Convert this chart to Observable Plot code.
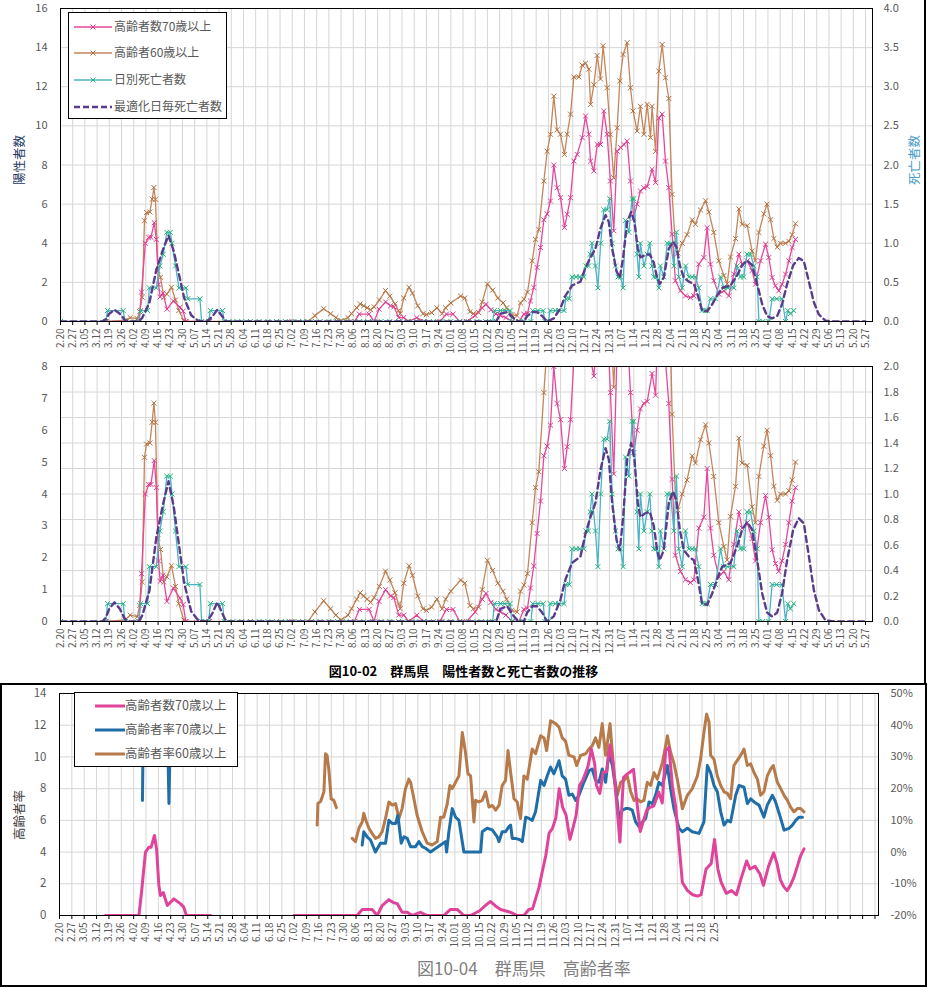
<!DOCTYPE html>
<html><head><meta charset="utf-8">
<script src="https://cdn.jsdelivr.net/npm/d3@7"></script>
<script src="https://cdn.jsdelivr.net/npm/@observablehq/plot@0.6"></script>
<style>
body{margin:0;background:#fff;}
#page{position:relative;width:927px;height:987px;overflow:hidden;background:#fff;font-family:"Noto Sans CJK JP","Noto Sans",sans-serif;}
.abs{position:absolute;}
.svgwrap{position:absolute;left:0;}
.legend{position:absolute;background:#fff;border:1px solid #000;z-index:5;}
.legend .item{position:absolute;white-space:nowrap;color:#595959;line-height:1;}
.rot{position:absolute;transform:translate(-50%,-50%) rotate(-90deg);white-space:nowrap;}
</style></head><body><div id="page"></div>
<script>
// ---------------- DATA ----------------
// x values are day offsets from startDate (2020-02-20)
const startDate = "2020-02-20";
const xTickLabels = ["2.20","2.27","3.05","3.12","3.19","3.26","4.02","4.09","4.16","4.23","4.30","5.07","5.14","5.21","5.28","6.04","6.11","6.18","6.25","7.02","7.09","7.16","7.23","7.30","8.06","8.13","8.20","8.27","9.03","9.10","9.17","9.24","10.01","10.08","10.15","10.22","10.29","11.05","11.12","11.19","11.26","12.03","12.10","12.17","12.24","12.31","1.07","1.14","1.21","1.28","2.04","2.11","2.18","2.25","3.04","3.11","3.18","3.25","4.01","4.08","4.15","4.22","4.29","5.06","5.13","5.20","5.27"];
const lastBottomLabel = "2.25";

// 高齢者数70歳以上 (left axis)
const pos70 = [[26,0],[45,0],[46.5,1.5],[48.7,4.0],[50.6,4.3],[51.9,4.3],[53.8,5.05],[55,4.2],[56.3,1.9],[57.2,1.26],[58.8,1.45],[61.1,0.63],[64.8,1.05],[68.6,0.73],[70.4,0.53],[71.9,0],[85.6,0],[100,null],
[132.8,0],[168.6,0],[171.5,0.38],[177.1,0.38],[180,0],[182.8,0.63],[186.6,1.0],[189.4,0.8],[191.3,0.75],[194.1,0.2],[197,0.2],[199.8,0],[204.5,0.2],[208.3,0],[217.7,0],[221.5,0.38],[225.3,0.38],[229.1,0],[233,0],[238,0.3],[242,0.7],[244.2,0.88],[247,0.6],[249.9,0.38],[252.5,0.3],[255.6,0.2],[259.3,0],[263.1,0],[265.9,0.38],[268,0.42],[269.7,1.05],[271.6,1.74],[273.5,2.76],[275.5,3.78],[277.4,5.2],[279.3,5.5],[281.2,6.16],[283.1,8.0],[285,6.84],[287,6.33],[289.2,4.8],[290.8,5.48],[292.7,6.33],[294.6,8.2],[296.5,8.54],[299.4,9.4],[301.3,10.5],[303.2,9.57],[304.2,8.2],[306.1,7.7],[308,9.05],[309.9,9.05],[311.8,10.76],[313.7,9.57],[315.6,7.18],[317.5,4.63],[319.5,8.7],[321.4,8.9],[323.3,9.05],[325.2,9.22],[327.1,7.18],[329,5.3],[330.9,6.0],[332.8,6.67],[334.8,6.84],[336.7,6.9],[339.5,7.78],[341.5,7.1],[343.4,10.4],[345.3,10.6],[347.2,8.2],[349.1,6.84],[351,4.46],[352.9,2.08],[355.8,1.57],[358.7,1.31],[361.5,1.22],[363.5,1.31],[366.3,2.93],[369.2,3.27],[371.1,4.8],[373,2.93],[374.9,2.08],[377.8,1.4],[380.7,1.57],[383.5,1.31],[386.4,2.42],[389.3,3.44],[391.2,2.93],[394.1,3.1],[396.9,2.6],[398.8,1.9],[401.7,3.1],[404.6,3.95],[406.5,3.27],[408.4,2.25],[410.3,1.82],[412.2,1.57],[414.1,1.9],[416.1,2.42],[418,3.1],[419.9,3.78],[421.8,4.2]];

// 高齢者60歳以上 (left axis)
const pos60 = [[26,0],[37,0.05],[40,0.2],[44,0.15],[45.5,0.5],[46.9,1.24],[48.2,5.15],[49.4,5.57],[51.3,5.6],[52.6,6.25],[53.6,6.85],[54.5,6.25],[55.9,2.6],[57.4,2.26],[59.3,1.24],[61,1.4],[63.7,1.75],[66,1.1],[67.9,0.56],[70.7,0.05],[72,0],[142,0],[146,0.3],[151,0.65],[155,0.4],[158,0.2],[161,0.05],[165,0.2],[167,0.4],[170,0.7],[172,0.9],[174,0.8],[176,0.7],[178,0.6],[180,0.75],[183,1.1],[186.5,1.58],[189,1.3],[192,0.9],[194,0.55],[195,0.4],[197,1.2],[200,1.75],[202,1.45],[205,0.8],[208,0.4],[210,0.35],[213,0.45],[216,0.7],[219,0.4],[221,0.7],[224,0.95],[229.6,1.3],[232,1.2],[235,0.5],[237,0.4],[240,0.45],[242,1.0],[245,1.92],[248,1.6],[251,1.2],[254,0.95],[256,0.7],[259,0.35],[262,0.3],[264,0.95],[266,1.14],[268,1.5],[270.7,3.1],[272.6,4.2],[274.5,4.7],[277.4,7.18],[279.3,8.7],[281.2,9.57],[283.1,11.52],[285,9.8],[286.9,9.57],[289.2,8.54],[290.8,9.57],[292.7,10.6],[294.6,12.5],[297.5,12.5],[299.4,13.1],[301.3,13.2],[303.2,12.9],[304.2,11.1],[306.1,12.1],[308,13.6],[309.9,12.4],[311.4,14.1],[313.7,11.95],[315.6,9.57],[317.5,7.35],[319.5,9.9],[321,12.3],[322.9,13.65],[325.2,14.25],[327.1,11.95],[328.6,10.76],[330.9,9.74],[332.8,11.0],[334.8,9.57],[336.7,11.1],[338.6,9.4],[339.5,11.0],[341.5,8.7],[343.4,12.8],[345.3,14.16],[347.2,12.46],[349.1,11.4],[351,6.5],[352.9,3.9],[354.3,3.5],[356.8,4.0],[359.6,4.44],[362.5,5.2],[364.4,4.97],[367.3,5.7],[370.2,6.17],[372.1,5.6],[374.9,4.55],[377.8,3.1],[380.7,2.35],[382.6,1.93],[384.5,3.3],[387.4,4.24],[389.3,5.75],[391.2,4.97],[394.1,4.9],[396.9,3.6],[398.8,3.1],[400.8,4.55],[403.6,5.5],[405.5,6.0],[407.5,5.2],[409.4,4.24],[411.3,3.8],[413.2,4.0],[416.1,4.0],[418,4.1],[419.9,4.44],[421.8,5.0]];

// 日別死亡者数 (right axis)
const deaths = [[0,0],[26,0],[27,0.14],[36,0.14],[37,0],[45,0],[46,0.14],[50,0.14],[51,0.43],[55,0.43],[57,0.71],[59,0.86],[61,1.14],[63,1.14],[64,1.0],[66,0.71],[68,0.43],[72,0.43],[73,0.29],[80,0.29],[81,0],[85,0],[86,0.14],[93,0.14],[94,0],[99,0],[104,0],[109,0],[114,0],[119,0],[124,0],[129,0],[134,0],[139,0],[144,0],[149,0],[154,0],[159,0],[164,0],[169,0],[174,0],[179,0],[184,0],[189,0],[194,0],[199,0],[204,0],[209,0],[214,0],[219,0],[224,0],[229,0],[234,0],[239,0],[244,0],[248,0],[249,0.14],[252.5,0.14],[255,0.14],[258,0.14],[259,0],[263,0],[266,0],[270,0],[271,0.14],[274,0.14],[277,0.14],[278,0],[280,0],[281,0.14],[284,0.14],[286,0.14],[289,0.14],[290,0.29],[292,0.29],[293.6,0.57],[296,0.57],[298,0.57],[300.3,0.57],[301.5,0.71],[303,0.71],[304,0.86],[305,1.0],[307,0.71],[308.4,0.43],[310,1.0],[311.8,1.43],[313.7,1.43],[315.2,1.57],[316.6,1.0],[318.5,0.71],[320,0.57],[321.4,0.57],[322.9,0.43],[324.2,1.29],[326.2,1.14],[328,1.57],[329,1.57],[330.9,0.86],[331.9,0.57],[332.8,1.0],[334.8,0.71],[336.7,0.86],[338.2,1.0],[339.5,0.71],[340.5,0.57],[342,0.57],[343.4,0.43],[344.3,0.71],[346.2,0.57],[348.2,1.0],[350.1,1.0],[352,0.71],[353.5,1.14],[354.8,0.57],[356.8,0.43],[358.7,0.71],[360.6,0.57],[362.5,0.57],[364.4,0.57],[366.3,0.43],[368.2,0.14],[370,0.14],[371.1,0.14],[373,0.29],[375.9,0.29],[378.8,0.57],[380.7,0.43],[383,0.43],[386.4,0.43],[388.3,0.71],[390.2,0.57],[392.1,0.57],[394,0.86],[396,0.86],[397.9,0.71],[399.8,0.57],[400.8,0],[403,0],[406.5,0],[408.4,0.29],[411,0.29],[414.1,0.29],[416.1,0],[417.4,0.14],[418.9,0.1],[420.8,0.14]];

// 最適化日毎死亡者数 (right axis)
const optimal = [[0,0],[24,0],[26,0.03],[28,0.1],[31,0.15],[34,0.1],[37,0.02],[39,0],[45,0],[47,0.05],[51,0.24],[55,0.66],[59,0.93],[62,1.1],[65,0.9],[68,0.6],[71,0.3],[75,0.08],[79,0.01],[84,0],[87,0.06],[90,0.15],[93,0.06],[95,0],[250,0],[252.5,0.1],[256.3,0.12],[260.2,0.04],[263,0],[265.9,0],[267.8,0.07],[270.7,0.12],[273.5,0.12],[276.4,0.07],[279.3,0],[283.1,0.04],[286.9,0.17],[289.8,0.33],[293.6,0.46],[298.4,0.51],[301.3,0.69],[304.2,0.82],[307,0.93],[309.9,1.19],[312.8,1.36],[314.7,1.27],[316.6,0.93],[319.1,0.64],[321,0.56],[322.9,0.82],[325.2,1.27],[327.5,1.4],[329.4,1.27],[331.3,0.93],[332.8,0.82],[335.7,0.85],[338.2,0.86],[340.5,0.75],[342.4,0.56],[343.9,0.48],[346.2,0.56],[349.1,0.93],[351.6,1.02],[353.5,0.95],[355.4,0.72],[357.7,0.56],[360.6,0.51],[363.5,0.48],[365.8,0.33],[368.2,0.14],[371.1,0.13],[374,0.22],[376.8,0.33],[379.7,0.43],[384.5,0.46],[388.3,0.59],[391.2,0.72],[394.1,0.78],[396.9,0.72],[399.8,0.48],[402.7,0.22],[405.5,0.07],[408.4,0.04],[411.3,0.07],[414.1,0.22],[417,0.48],[420.5,0.72],[423.7,0.81],[426.6,0.77],[429.5,0.51],[432.3,0.25],[435.2,0.09],[439,0.01],[444,0],[462,0]];

// 高齢者率70歳以上 (%)
const rate70 = [[47,16.3],[48,70],[54,70],[57,35],[58,60],[61,45],[62,15.3],[63.5,60],[70,70],[100,null],
[171.5,2.2],[172.4,6.4],[174.3,4.8],[176.2,3.8],[179,0],[181.8,2.8],[184.7,2.8],[186.6,10],[188.5,9],[190.4,9],[191.7,11.6],[193.6,2.8],[195.1,4.8],[197,4.3],[198.9,1.7],[201.7,1.7],[203.6,3.3],[205.5,1.7],[207.4,1.2],[210.2,0],[213,1.1],[215.9,2.2],[218.7,3.3],[219.3,0],[220.6,6.4],[222.5,13.7],[224.4,11],[226.3,10],[229.1,0],[238.6,0],[239.5,6.4],[242.3,7.5],[245.2,7],[248,4.8],[249,3.3],[250.8,6.4],[252.7,6.4],[254.6,8],[255.6,8.5],[256.5,4.3],[258.4,4.3],[261.2,3.8],[262.2,3.3],[264.1,11],[266,10.6],[267.8,10],[269.7,12.7],[272.6,22.6],[274.5,21],[276.3,24],[278.2,26.8],[280.1,24.7],[282,27.3],[283,28.8],[284.8,24],[286.7,23],[288.6,17.9],[290.5,18.3],[292.4,16.3],[294.3,17.9],[297.1,22],[300,25.7],[301.8,26.2],[303.7,22.6],[305.6,22],[307.5,26.2],[309.4,22],[311.3,31.5],[313.2,27.3],[315.1,20],[317,10.6],[318.9,13.2],[320.7,13.7],[322.6,13.7],[324.5,13.2],[326.4,9.5],[328.3,8],[330.2,9.5],[332.1,10.6],[334,15.8],[335.9,15.3],[337.7,17.9],[339.6,22],[341.5,21],[344.4,27.3],[346.2,20],[348.1,13.7],[351,7.5],[352.9,6.4],[355.7,7.5],[358.5,6.4],[362.3,5.9],[365.1,9.5],[367,27.3],[368.9,25],[370.8,21],[372.7,19],[374.6,12.7],[376.5,8.5],[378.4,10],[380.2,9.5],[383.1,17.9],[385,21],[387.8,20.5],[389.7,15.3],[391.6,16.8],[393.5,15.8],[396.3,14.8],[399.1,11],[401,14.8],[403.9,17.9],[405.7,15.8],[408.6,10.6],[410.5,6.9],[413.3,7.5],[415.2,8.5],[417.1,10],[419,11],[420.9,11]];

// 高齢者率60歳以上 (%)
const rate60 = [[146,8.5],[146.4,15.3],[148,16],[149.8,19],[150.7,31],[151.6,30.5],[152.6,26],[153.9,16.8],[155.4,16.3],[156.9,14],[160,null],
[165.8,4.3],[167.7,3.3],[169.6,7.5],[171.5,9.5],[172.4,12.2],[173.9,9.5],[175.3,7.5],[177.1,5.9],[179,4.3],[180.9,4.8],[182.8,6.4],[184.7,10.6],[186.6,15.8],[188.5,14.8],[190.4,15.3],[192.3,10.6],[194.1,13.7],[196,20],[197.9,23],[198.9,22],[200.4,17.9],[202.6,11.6],[205.5,6.4],[208.3,2.8],[211.1,2.2],[214,3.3],[215.9,11],[217.7,11],[219.6,15],[221.2,21],[222.5,20],[224.4,22],[226.3,24],[228.2,37.7],[230,31.5],[231.4,24.7],[232.9,24],[234.8,9.5],[235.7,16.3],[237.6,15.8],[239.5,16.3],[241.4,19],[243.3,14.2],[245.2,14.7],[247.1,13.2],[249,14.7],[250.8,21],[252.7,22.6],[254.1,32],[255.6,25],[257.5,16.8],[259.3,15.8],[261.2,10.6],[263.1,24],[265,23],[267.8,32.5],[269.7,31],[272.6,36.7],[274.5,36],[276,32],[278.2,41.4],[281.1,40.5],[283,39.4],[284.8,36],[286.7,35],[288.6,30.5],[291.5,30],[293,27.3],[295.2,30.5],[298.1,31],[300,32.5],[301.8,33.5],[303.7,36],[305.6,33],[307.5,40.5],[309.4,30.5],[311.9,40.5],[313.2,31.5],[314.1,25],[316,17.9],[317.9,22],[319.8,22.6],[321.7,24],[323.6,19],[325.5,16.3],[327.3,16.8],[329.2,15.8],[331.1,16.3],[333,22],[334.9,21],[336.8,25],[338.7,23],[341.5,28],[343.4,33.5],[344.4,36.7],[346.2,31.5],[348.1,28],[350,23],[352.9,13.7],[355.7,17.9],[358.5,20],[361.4,24],[363.2,29.3],[365.1,37.7],[366.6,43.5],[368,41],[368.9,30.5],[370.8,29.3],[372.7,24],[374.6,21],[376.5,19],[378.4,18.5],[380.2,16.8],[382.1,27.3],[384,28.9],[385.9,30.5],[387.8,32.5],[389.7,27.3],[391.6,27.8],[393.5,25],[395.4,23],[397.2,17.9],[399.1,19],[401,24],[402.9,26.2],[404.4,27.3],[406.7,22],[408.6,20],[410.5,17.9],[412.4,16.3],[414.2,14.2],[416.1,12.7],[418,13.7],[419.9,13.7],[421.8,12.7]];

const leftTicks1 = [0,2,4,6,8,10,12,14,16];
const rightTicks1 = [0,0.5,1.0,1.5,2.0,2.5,3.0,3.5,4.0];
const leftTicks2 = [0,1,2,3,4,5,6,7,8];
const rightTicks2 = [0,0.2,0.4,0.6,0.8,1.0,1.2,1.4,1.6,1.8,2.0];
const leftTicks3 = [0,2,4,6,8,10,12,14];
const rightTicks3 = [-20,-10,0,10,20,30,40,50];

const legend1 = ["高齢者数70歳以上","高齢者60歳以上","日別死亡者数","最適化日毎死亡者数"];
const legend3 = ["高齢者数70歳以上","高齢者率70歳以上","高齢者率60歳以上"];
const caption1 = "図10-02　群馬県　陽性者数と死亡者数の推移";
const caption3 = "図10-04　群馬県　高齢者率";
const yTitle1 = "陽性者数", yTitle1R = "死亡者数", yTitle3 = "高齢者率";

// ---------------- HELPERS ----------------
const FONT = '"Noto Sans CJK JP","Noto Sans",sans-serif';
const C = {pink:"#e8479b", pinkM:"#d63d8e", brown:"#c4865a", brownM:"#b0703f", teal:"#4bb3c6", green:"#22b574", purple:"#5a3d8a",
  pinkB:"#e0449a", blue:"#1f6ea8", brownB:"#b67a4b", grid:"#d6d6d6", text:"#595959"};
const [sy, sm, sd] = startDate.split("-").map(Number);
const base = Date.UTC(sy, sm-1, sd);
const toDate = d => new Date(base + d*864e5);
const rows = arr => arr.map(([d,v]) => ({date: toDate(d), v}));
const P70 = rows(pos70), P60 = rows(pos60), DE = rows(deaths), OP = rows(optimal), R70 = rows(rate70), R60 = rows(rate60);
let yr = 2020, prevM = 0;
const tickDates = xTickLabels.map(s => { const [m, d] = s.split(".").map(Number); if (m < prevM) yr++; prevM = m; return new Date(Date.UTC(yr, m-1, d)); });
const labelOf = new Map(tickDates.map((d,i) => [+d, xTickLabels[i]]));
const lastIdx = xTickLabels.indexOf(lastBottomLabel);
const labelOfBottom = new Map(tickDates.map((d,i) => [+d, i <= lastIdx ? xTickLabels[i] : ""]));
const nn = (v, f) => v == null ? NaN : f(v);

const page = document.getElementById("page");
function place(el, top) { const w = document.createElement("div"); w.className = "svgwrap"; w.style.top = top + "px"; w.appendChild(el); page.appendChild(w); }

function countPanel({top, height, marginTop, marginBottom, yMax, leftTicks, rightTicks}) {
  const rPos = rightTicks.map(t => t*4);
  const chart = Plot.plot({
    width: 927, height, marginLeft: 60, marginRight: 55, marginTop, marginBottom,
    style: {fontFamily: FONT, fontSize: "11px", color: "#000", background: "transparent", overflow: "visible"},
    x: {type: "utc", domain: [toDate(0), new Date(Date.UTC(2021,4,31))]},
    y: {domain: [0, yMax]},
    marks: [
      Plot.gridX(tickDates, {stroke: C.grid, strokeOpacity: 1}),
      Plot.gridY(rPos, {stroke: C.grid, strokeOpacity: 1}),
      Plot.lineY(P60, {x: "date", y: "v", stroke: C.brown, strokeWidth: 1.3, clip: true}),
      Plot.dot(P60, {x: "date", y: "v", symbol: "times", r: 2.4, stroke: C.brownM, strokeWidth: 1, clip: true}),
      Plot.lineY(P70, {x: "date", y: "v", stroke: C.pink, strokeWidth: 1.3, clip: true}),
      Plot.dot(P70, {x: "date", y: "v", symbol: "times", r: 2.4, stroke: C.pinkM, strokeWidth: 1, clip: true}),
      Plot.lineY(DE, {x: "date", y: d => d.v*4, stroke: C.teal, strokeWidth: 1.3, clip: true}),
      Plot.dot(DE, {x: "date", y: d => d.v*4, symbol: "times", r: 2.4, stroke: C.green, strokeWidth: 1, clip: true}),
      Plot.lineY(OP, {x: "date", y: d => d.v*4, stroke: C.purple, strokeWidth: 2.4, strokeDasharray: "6,4", clip: true}),
      Plot.frame({stroke: "#000", strokeWidth: 1}),
      Plot.axisX({ticks: tickDates, tickFormat: d => labelOf.get(+d) ?? "", tickRotate: -90, tickSize: 4, tickPadding: 3, fontSize: 10, fill: C.text, stroke: "#000", label: null}),
      Plot.axisY({ticks: leftTicks, anchor: "left", tickSize: 0, tickPadding: 13, fontSize: 11, fill: C.text, label: null}),
      Plot.axisY({ticks: rPos, anchor: "right", tickSize: 0, tickPadding: 11, fontSize: 11, fill: C.text, tickFormat: d => (d/4).toFixed(1), label: null})
    ]
  });
  place(chart, top);
}

countPanel({top: 0, height: 350, marginTop: 8, marginBottom: 29, yMax: 16, leftTicks: leftTicks1, rightTicks: rightTicks1});
countPanel({top: 350, height: 310, marginTop: 16, marginBottom: 39, yMax: 8, leftTicks: leftTicks2, rightTicks: rightTicks2});

// bottom panel
(function(){
  const rPos = rightTicks3.map(p => (p+20)/5);
  const chart = Plot.plot({
    width: 927, height: 270, marginLeft: 59, marginRight: 49, marginTop: 9, marginBottom: 39,
    style: {fontFamily: FONT, fontSize: "11px", color: "#000", background: "transparent", overflow: "visible"},
    x: {type: "utc", domain: [toDate(0), new Date(Date.UTC(2021,4,29))]},
    y: {domain: [0, 14]},
    marks: [
      Plot.gridX(tickDates, {stroke: C.grid, strokeOpacity: 1}),
      Plot.gridY(leftTicks3, {stroke: C.grid, strokeOpacity: 1}),
      Plot.lineY(R60, {x: "date", y: d => nn(d.v, v => (v+20)/5), stroke: C.brownB, strokeWidth: 3, clip: true}),
      Plot.lineY(R70, {x: "date", y: d => nn(d.v, v => (v+20)/5), stroke: C.blue, strokeWidth: 3, clip: true}),
      Plot.lineY(P70, {x: "date", y: "v", stroke: C.pinkB, strokeWidth: 3, clip: true}),
      Plot.frame({stroke: "#000", strokeWidth: 1}),
      Plot.axisX({ticks: tickDates, tickFormat: d => labelOfBottom.get(+d) ?? "", tickRotate: -90, tickSize: 4, tickPadding: 3, fontSize: 10, fill: C.text, stroke: "#000", label: null}),
      Plot.axisY({ticks: leftTicks3, anchor: "left", tickSize: 0, tickPadding: 13, fontSize: 11.5, fill: C.text, label: null}),
      Plot.axisY({ticks: rPos, anchor: "right", tickSize: 0, tickPadding: 12, fontSize: 11, fill: C.text, tickFormat: d => Math.round(d*5-20) + "%", label: null})
    ]
  });
  place(chart, 684);
})();

// ---------------- TEXT / LEGENDS / FRAMES ----------------
function addDiv(html, style, cls) { const d = document.createElement("div"); if (cls) d.className = cls; d.innerHTML = html; Object.assign(d.style, style); page.appendChild(d); return d; }

addDiv(yTitle1, {left: "18px", top: "160px", fontSize: "12.5px", color: "#1f3a68"}, "rot");
addDiv(yTitle1R, {left: "913px", top: "160px", fontSize: "12.5px", color: "#4a9cc8"}, "rot");
addDiv(yTitle3, {left: "18px", top: "815px", fontSize: "12.5px", color: "#404040"}, "rot");
addDiv(caption1, {position: "absolute", left: "0", width: "927px", top: "661px", textAlign: "center", fontSize: "13px", fontWeight: "bold", color: "#000"});
addDiv(caption3, {position: "absolute", left: "417px", top: "955px", fontSize: "17px", color: "#7f7f7f", whiteSpace: "nowrap"});

// frames
addDiv("", {position: "absolute", left: "924px", top: "0", width: "2px", height: "684px", background: "#000"});
addDiv("", {position: "absolute", left: "0", top: "683px", width: "923px", height: "300px", border: "2px solid #000"});

// legend 1
(function(){
  const box = addDiv("", {left: "68px", top: "12px", width: "157px", height: "105px"}, "legend");
  const styles = [
    {stroke: C.pink, mark: C.pinkM, dash: null},
    {stroke: C.brown, mark: C.brownM, dash: null},
    {stroke: C.teal, mark: C.green, dash: null},
    {stroke: C.purple, mark: null, dash: "6,3"}
  ];
  const ys = [14, 40, 67, 94];
  legend1.forEach((t, i) => {
    const s = styles[i];
    const svg = `<svg width="38" height="10" style="position:absolute;left:5px;top:${ys[i]-5}px;overflow:visible">
      <line x1="0" y1="5" x2="38" y2="5" stroke="${s.stroke}" stroke-width="${s.dash ? 2.4 : 1.5}" ${s.dash ? `stroke-dasharray="${s.dash}"` : ""}/>
      ${s.mark ? `<path d="M16.5,2.5L21.5,7.5M21.5,2.5L16.5,7.5" stroke="${s.mark}" stroke-width="1"/>` : ""}</svg>`;
    box.insertAdjacentHTML("beforeend", svg);
    box.insertAdjacentHTML("beforeend", `<div class="item" style="left:45px;top:${ys[i]-7}px;font-size:12px">${t}</div>`);
  });
})();

// legend 3
(function(){
  const box = addDiv("", {left: "74px", top: "692px", width: "162px", height: "73px"}, "legend");
  const cols = [C.pinkB, C.blue, C.brownB];
  const ys = [13, 37, 61];
  legend3.forEach((t, i) => {
    box.insertAdjacentHTML("beforeend", `<svg width="30" height="8" style="position:absolute;left:20px;top:${ys[i]-4}px"><line x1="0" y1="4" x2="30" y2="4" stroke="${cols[i]}" stroke-width="3.2" stroke-linecap="round"/></svg>`);
    box.insertAdjacentHTML("beforeend", `<div class="item" style="left:50px;top:${ys[i]-7.5}px;font-size:12.5px">${t}</div>`);
  });
})();
</script></body></html>
